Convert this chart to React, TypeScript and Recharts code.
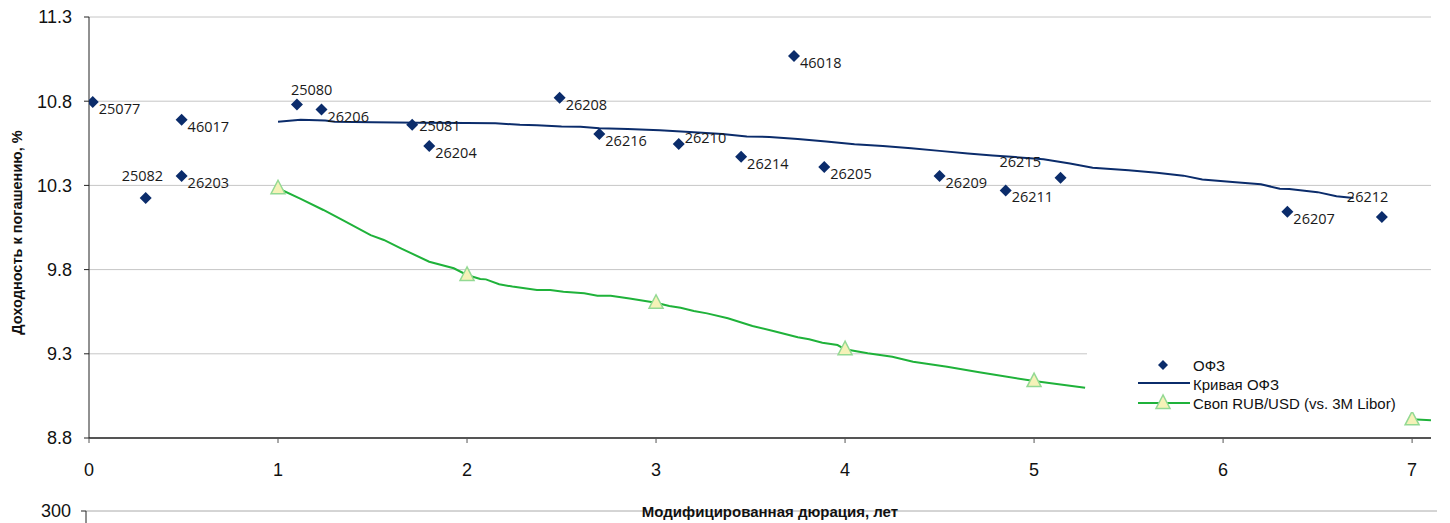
import React from "react";
import { ComposedChart, LineChart, Line, Scatter, XAxis, YAxis, CartesianGrid, Legend, ReferenceLine } from "recharts";

const SANS = '"Liberation Sans", Arial, sans-serif';
const LABEL_FONT = '"Open Sans", "DejaVu Sans", sans-serif';

const NAVY = "#0b2c6b";
const GREEN = "#1fb23a";
const GRID = "#c6c6c6";

const xTicks = [0, 1, 2, 3, 4, 5, 6, 7];
const yTicks = [8.8, 9.3, 9.8, 10.3, 10.8, 11.3];
const lowerTicks = [300];

// ОФЗ: выпуск, модифицированная дюрация, доходность
const ofzCodes = ["25077", "25082", "46017", "26203", "25080", "26206", "25081", "26204", "26208", "26216", "26210", "26214", "46018", "26205", "26209", "26211", "26215", "26207", "26212"];
const ofzDurations = [0.02, 0.3, 0.49, 0.49, 1.1, 1.23, 1.71, 1.8, 2.49, 2.7, 3.12, 3.45, 3.73, 3.89, 4.5, 4.85, 5.14, 6.34, 6.84];
const ofzYields = [10.795, 10.225, 10.69, 10.356, 10.78, 10.75, 10.66, 10.534, 10.82, 10.605, 10.546, 10.47, 11.068, 10.41, 10.356, 10.27, 10.345, 10.143, 10.112];

// Кривая ОФЗ
const ofzCurve: [number, number][] = [
  [1.0, 10.678], [1.12, 10.69], [1.25, 10.686], [1.3, 10.678], [1.5, 10.675], [1.75, 10.672], [2.0, 10.67],
  [2.15, 10.669], [2.28, 10.66], [2.37, 10.657], [2.5, 10.65], [2.6, 10.648], [2.7, 10.64], [2.85, 10.635],
  [2.95, 10.63], [3.02, 10.628], [3.2, 10.615], [3.35, 10.605], [3.48, 10.59], [3.6, 10.588], [3.75, 10.575],
  [3.9, 10.56], [4.05, 10.545], [4.2, 10.534], [4.35, 10.52], [4.5, 10.505], [4.65, 10.49], [4.78, 10.478],
  [4.9, 10.468], [5.05, 10.455], [5.19, 10.43], [5.31, 10.405], [5.5, 10.39], [5.65, 10.375], [5.79, 10.358],
  [5.89, 10.335], [6.05, 10.32], [6.2, 10.307], [6.3, 10.28], [6.35, 10.278], [6.5, 10.26], [6.6, 10.235], [6.69, 10.225],
];

// Своп RUB/USD (vs. 3M Libor)
const swapCurve: [number, number][] = [
  [1.0, 10.283], [1.12, 10.22], [1.24, 10.154], [1.34, 10.095], [1.49, 10.005], [1.56, 9.976], [1.65, 9.926],
  [1.8, 9.847], [1.93, 9.808], [2.0, 9.768], [2.07, 9.744], [2.1, 9.742], [2.17, 9.713], [2.24, 9.699],
  [2.37, 9.679], [2.44, 9.679], [2.51, 9.669], [2.62, 9.659], [2.69, 9.645], [2.76, 9.645], [2.86, 9.629],
  [3.0, 9.603], [3.07, 9.584], [3.13, 9.574], [3.2, 9.554], [3.27, 9.54], [3.38, 9.511], [3.51, 9.465],
  [3.62, 9.435], [3.75, 9.398], [3.81, 9.386], [3.88, 9.366], [3.96, 9.352], [4.0, 9.327], [4.12, 9.303],
  [4.25, 9.283], [4.36, 9.253], [4.54, 9.223], [4.71, 9.19], [5.0, 9.138], [5.27, 9.099],
];
const swapCurveTail: [number, number][] = [[7.0, 8.911], [7.1, 8.906]];

const legendItems = ["ОФЗ", "Кривая ОФЗ", "Своп RUB/USD (vs. 3M Libor)"];

// label placement tweaks (dx, dy from marker centre), default is below-right
const labelOffset: Record<string, [number, number]> = {
  "25082": [-24, -17],
  "25080": [-6, -10],
  "25081": [7, 6],
  "26210": [6, -1],
  "26215": [-61, -11],
  "26212": [-35, -15],
};

const ofzPoints = ofzCodes.map((code, i) => ({ code, x: ofzDurations[i], y: ofzYields[i] }));
const toPoints = (arr: [number, number][]) => arr.map(([x, y]) => ({ x, y }));

const Diamond = (props: any) => {
  const { cx, cy, payload } = props;
  const [dx, dy] = labelOffset[payload.code] || [6, 12];
  return (
    <g>
      <polygon points={`${cx},${cy - 6} ${cx + 6},${cy} ${cx},${cy + 6} ${cx - 6},${cy}`} fill={NAVY} />
      <text x={cx + dx} y={cy + dy} fontSize={14.5} fontFamily={LABEL_FONT} fill="#1a1a1a">
        {payload.code}
      </text>
    </g>
  );
};

const triangle = (cx: number, cy: number) => `${cx},${cy - 8} ${cx - 7},${cy + 5.5} ${cx + 7},${cy + 5.5}`;

const SwapDot = (props: any) => {
  const { cx, cy, payload, index } = props;
  if (!Number.isInteger(payload.x)) return <g key={`d${index}`} />;
  return <polygon key={`d${index}`} points={triangle(cx, cy)} fill="#f5f2b8" stroke="#93d993" strokeWidth={1.5} />;
};

const renderLegend = () => (
  <svg width={353} height={67} style={{ display: "block" }}>
    <rect width={353} height={67} fill="#fff" />
    <polygon points="76,15 81,20 76,25 71,20" fill={NAVY} />
    <line x1={51} x2={103} y1={38} y2={38} stroke={NAVY} strokeWidth={2} />
    <line x1={51} x2={103} y1={58} y2={58} stroke={GREEN} strokeWidth={2} />
    <polygon points={triangle(76, 58)} fill="#f5f2b8" stroke="#93d993" strokeWidth={1.5} />
    {legendItems.map((t, i) => (
      <text key={t} x={106} y={21 + i * 19} dy="0.36em" fontSize={15} fontFamily={SANS} fill="#111">
        {t}
      </text>
    ))}
  </svg>
);

// lower chart (only its top edge is in view)
const LOWER_W = 1450;
const LOWER_AXIS_W = 86;
const LOWER_RIGHT = 13;

export default function App() {
  return (
    <div style={{ position: "fixed", left: 0, top: 0, width: 1450, height: 523, overflow: "hidden", background: "#fff" }}>
      <div style={{ position: "absolute", left: 0, top: 471 }}>
        <LineChart width={LOWER_W} height={160} data={[{ x: 0 }, { x: 7.1 }]} margin={{ top: 40, right: LOWER_RIGHT, bottom: 0, left: 0 }}>
          <CartesianGrid vertical={false} stroke={GRID} />
          <XAxis hide type="number" dataKey="x" domain={[0, 7.1]} />
          <YAxis
            type="number"
            domain={[0, 300]}
            ticks={lowerTicks}
            allowDataOverflow
            width={LOWER_AXIS_W}
            tickSize={5}
            tickMargin={10}
            axisLine={{ stroke: "#222" }}
            tickLine={{ stroke: "#222" }}
            tick={{ fill: "#111", fontSize: 18, fontFamily: SANS }}
          />
          {lowerTicks.map((v) => (
            <ReferenceLine key={v} y={v} stroke={GRID} ifOverflow="extendDomain" />
          ))}
        </LineChart>
      </div>
      <div style={{ position: "absolute", left: 0, top: 0 }}>
        <ComposedChart width={1450} height={523} margin={{ top: 17, right: 19, bottom: 0, left: 0 }}>
          <CartesianGrid vertical={false} stroke={GRID} />
          <XAxis
            type="number"
            dataKey="x"
            domain={[0, 7.1]}
            ticks={xTicks}
            allowDataOverflow
            height={85}
            tickSize={5}
            tickMargin={20}
            axisLine={{ stroke: "#555", strokeWidth: 2 }}
            tickLine={{ stroke: "#555" }}
            tick={{ fill: "#111", fontSize: 18, fontFamily: SANS }}
            label={{
              content: (p: any) => (
                <text x={p.viewBox.x + p.viewBox.width / 2 + 10} y={517} textAnchor="middle" fontSize={15} fontWeight="bold" fontFamily={SANS} fill="#111">
                  Модифицированная дюрация, лет
                </text>
              ),
            }}
          />
          <YAxis
            type="number"
            domain={[8.8, 11.3]}
            ticks={yTicks}
            allowDataOverflow
            width={89}
            tickSize={5}
            tickMargin={12}
            axisLine={{ stroke: "#222" }}
            tickLine={{ stroke: "#222" }}
            tickFormatter={(v: number) => v.toFixed(1)}
            tick={{ fill: "#111", fontSize: 18, fontFamily: SANS }}
            label={{
              content: (p: any) => {
                const cy = p.viewBox.y + p.viewBox.height / 2 + 5;
                return (
                  <text x={17} y={cy} transform={`rotate(-90 17 ${cy})`} textAnchor="middle" dominantBaseline="central" fontSize={14.5} fontWeight="bold" fontFamily={SANS} fill="#111">
                    Доходность к погашению, %
                  </text>
                );
              },
            }}
          />
          <Line data={toPoints(ofzCurve)} dataKey="y" type="linear" stroke={NAVY} strokeWidth={2} dot={false} isAnimationActive={false} />
          <Line data={toPoints(swapCurve)} dataKey="y" type="linear" stroke={GREEN} strokeWidth={2} dot={SwapDot} isAnimationActive={false} />
          <Line data={toPoints(swapCurveTail)} dataKey="y" type="linear" stroke={GREEN} strokeWidth={2} dot={SwapDot} isAnimationActive={false} />
          <Scatter data={ofzPoints} dataKey="y" shape={Diamond} isAnimationActive={false} />
          <Legend
            layout="horizontal"
            verticalAlign="middle"
            align="center"
            content={renderLegend}
            wrapperStyle={{ left: 1087, top: 345, width: 353, height: 67, background: "#fff" }}
          />
        </ComposedChart>
      </div>
    </div>
  );
}
